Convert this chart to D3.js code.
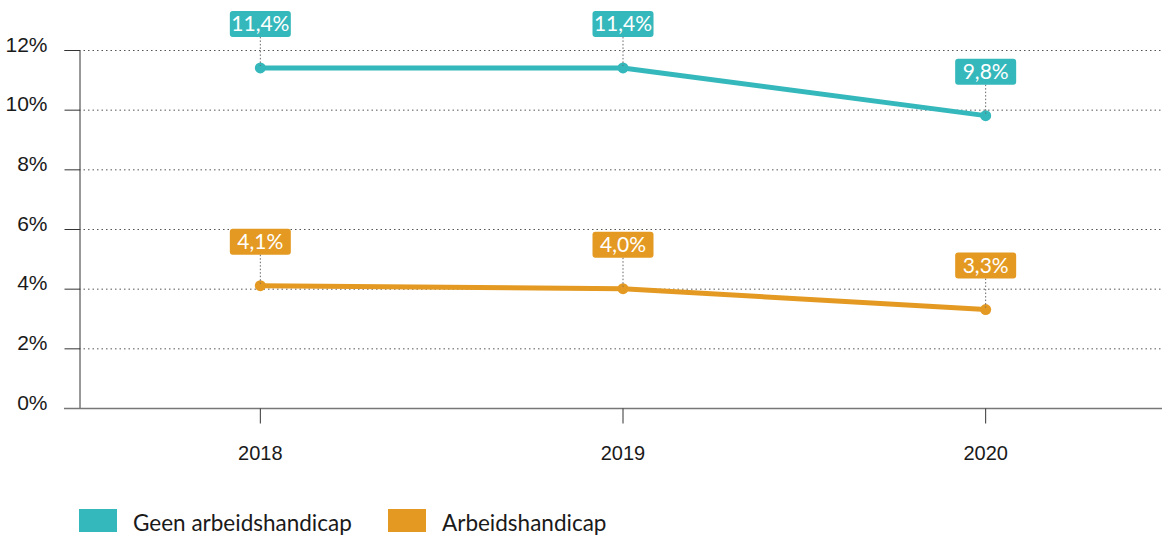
<!DOCTYPE html>
<html>
<head>
<meta charset="utf-8">
<script src="https://cdn.jsdelivr.net/npm/d3@7"></script>
<style>
  html, body { margin: 0; padding: 0; background: #fff; }
  svg { display: block; font-family: Lato, "Open Sans", sans-serif; }
</style>
</head>
<body>
<svg id="chart" width="1162" height="536"></svg>
<script>
const years = ["2018", "2019", "2020"];
const geenValues = [11.4, 11.4, 9.8];
const arbeidsValues = [4.1, 4.0, 3.3];
const seriesNames = ["Geen arbeidshandicap", "Arbeidshandicap"];
const seriesColors = ["#35b8bb", "#e49a22"];
const yTicks = [0, 2, 4, 6, 8, 10, 12];

const fmt = v => v.toFixed(1).replace(".", ",") + "%";

const svg = d3.select("#chart");
const x = d3.scaleBand().domain(years).range([79, 1167]);
const y = d3.scaleLinear().domain([0, 12]).range([408, 50]);
const cx = d => x(d) + x.bandwidth() / 2;

// gridlines
svg.append("g")
  .selectAll("line")
  .data(yTicks.filter(t => t > 0))
  .join("line")
  .attr("x1", 79).attr("x2", 1162)
  .attr("y1", d => y(d) + 0.5).attr("y2", d => y(d) + 0.5)
  .attr("stroke", "#555")
  .attr("stroke-width", 1)
  .attr("stroke-dasharray", "1.5,3");

// y axis
const yAxis = svg.append("g")
  .attr("transform", "translate(79.5,0)")
  .call(d3.axisLeft(y).tickValues(yTicks).tickSize(15).tickPadding(17).tickFormat(d => d + "%"));
yAxis.select(".domain").attr("stroke", "#333");
yAxis.selectAll(".tick line").attr("stroke", "#333");
yAxis.selectAll(".tick text")
  .attr("font-size", 21).attr("fill", "#1a1a1a").attr("dy", "0.05em");

// baseline
svg.append("line")
  .attr("x1", 64).attr("x2", 1162)
  .attr("y1", y(0) + 0.5).attr("y2", y(0) + 0.5)
  .attr("stroke", "#777").attr("stroke-width", 1.5);

// x axis
const xAxis = svg.append("g")
  .attr("transform", `translate(0,${y(0) + 0.5})`)
  .call(d3.axisBottom(x).tickSize(15).tickPadding(22));
xAxis.select(".domain").remove();
xAxis.selectAll(".tick line").attr("stroke", "#333");
xAxis.selectAll(".tick text").attr("font-size", 20).attr("fill", "#1a1a1a");

const series = [
  { name: seriesNames[0], values: geenValues, color: seriesColors[0] },
  { name: seriesNames[1], values: arbeidsValues, color: seriesColors[1] }
];

const line = d3.line().x(d => cx(d.year)).y(d => y(d.value));

series.forEach(s => {
  const pts = years.map((yr, i) => ({ year: yr, value: s.values[i] }));
  const g = svg.append("g");

  g.append("path")
    .datum(pts)
    .attr("d", line)
    .attr("fill", "none")
    .attr("stroke", s.color)
    .attr("stroke-width", 5)
    .attr("stroke-linejoin", "round");

  g.selectAll("circle")
    .data(pts)
    .join("circle")
    .attr("cx", d => cx(d.year))
    .attr("cy", d => y(d.value))
    .attr("r", 5.5)
    .attr("fill", s.color);

  // value labels with leader lines
  const lab = g.selectAll("g.lab").data(pts).join("g").attr("class", "lab")
    .attr("transform", d => `translate(${cx(d.year)},${y(d.value)})`);
  lab.append("line")
    .attr("x1", 0).attr("x2", 0)
    .attr("y1", -31).attr("y2", -2)
    .attr("stroke", "#666").attr("stroke-width", 1)
    .attr("stroke-dasharray", "1.5,2");
  lab.append("rect")
    .attr("x", -30.5).attr("y", -57)
    .attr("width", 61).attr("height", 26)
    .attr("rx", 3)
    .attr("fill", s.color);
  lab.append("text")
    .attr("x", 0).attr("y", -36.5)
    .attr("text-anchor", "middle")
    .attr("font-size", 21)
    .attr("fill", "#fff")
    .text(d => fmt(d.value));
});

// legend
const legendX = [79, 388];
const legend = svg.append("g").selectAll("g").data(series).join("g")
  .attr("transform", (d, i) => `translate(${legendX[i]},509)`);
legend.append("rect")
  .attr("width", 38).attr("height", 23)
  .attr("fill", d => d.color);
legend.append("text")
  .attr("x", 54).attr("y", 22)
  .attr("font-size", 22.5)
  .attr("fill", "#1a1a1a")
  .text(d => d.name);
</script>
</body>
</html>
